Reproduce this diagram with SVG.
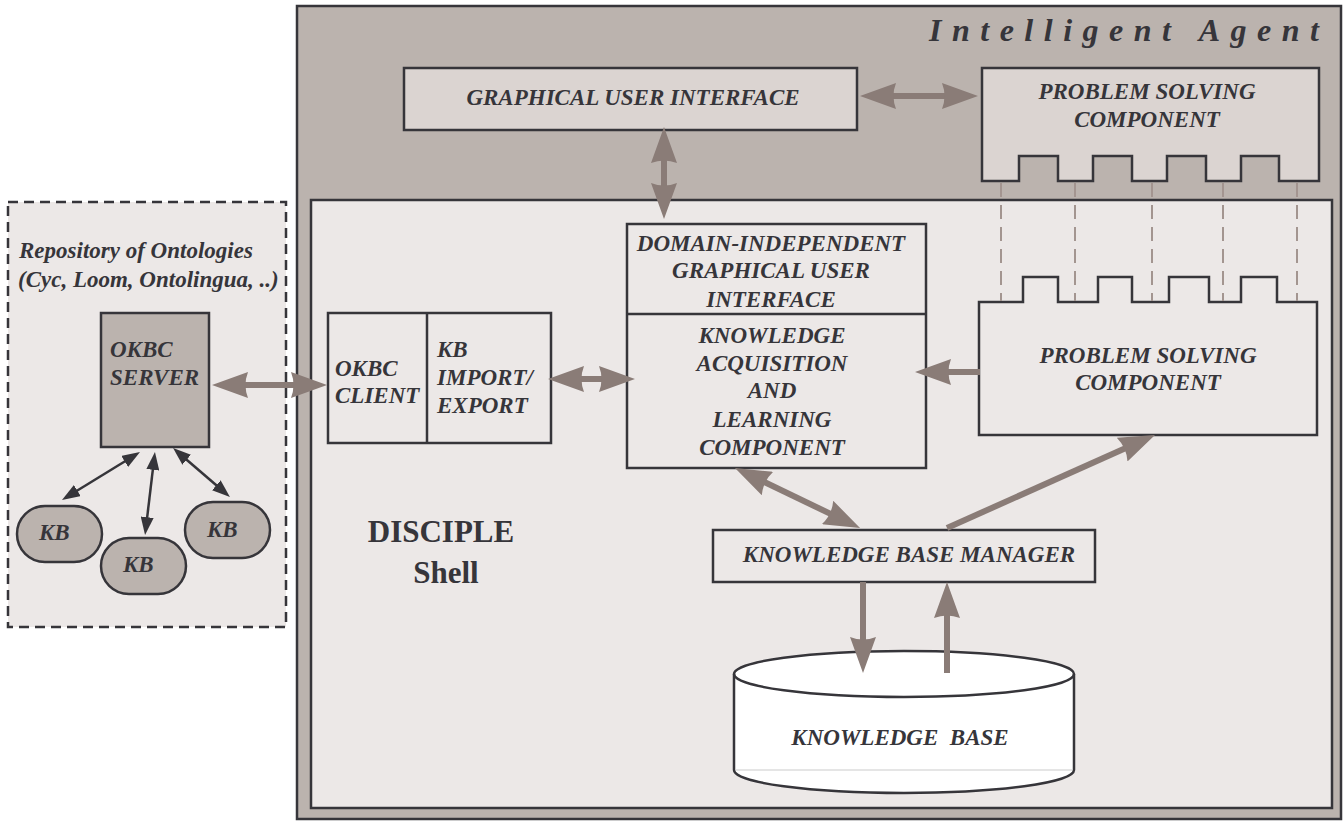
<svg xmlns="http://www.w3.org/2000/svg" width="1344" height="822" viewBox="0 0 1344 822">
<style>
.t{font-family:"Liberation Serif","Times New Roman",serif;font-weight:bold;font-style:italic;font-size:23px;fill:#36353a}
.c{text-anchor:middle}
.box{stroke:#36353a;stroke-width:2.5}
.lt{fill:#ece8e7}
.md{fill:#dbd4d1}
.dk{fill:#bbb3ae}
.big{stroke:#8a7c77;stroke-width:6;fill:none}
.sm{stroke:#36353a;stroke-width:2.5;fill:none}
.dash{stroke:#a39590;stroke-width:2;stroke-dasharray:14 8;fill:none}
</style>
<defs>
<marker id="ah" markerUnits="userSpaceOnUse" viewBox="0 0 36 26" markerWidth="36" markerHeight="26" refX="20" refY="13" orient="auto-start-reverse"><path d="M0,0 L36,13 L0,26 Q5,13 0,0 Z" fill="#8a7c77"/></marker>
<marker id="sh" markerUnits="userSpaceOnUse" viewBox="0 0 18 13" markerWidth="18" markerHeight="13" refX="10" refY="6.5" orient="auto-start-reverse"><path d="M0,0 L18,6.5 L0,13 Z" fill="#36353a"/></marker>
</defs>
<rect width="1344" height="822" fill="#ffffff"/>

<g id="intelligent-agent">
<rect x="297" y="6" width="1044" height="813" class="box dk"/>
<text x="929" y="41" class="t" style="font-size:32px;letter-spacing:10.5px">Intelligent Agent</text>
</g>

<g id="disciple-shell">
<rect x="311" y="200" width="1021" height="608" class="box lt"/>
<text x="441" y="542" style="font-family:'Liberation Serif','Times New Roman',serif;font-weight:bold;font-size:31px;fill:#36353a;text-anchor:middle">DISCIPLE</text>
<text x="446" y="583" style="font-family:'Liberation Serif','Times New Roman',serif;font-weight:bold;font-size:31px;fill:#36353a;text-anchor:middle">Shell</text>
</g>

<g id="repository">
<rect x="8" y="202" width="278" height="425" class="lt" stroke="#36353a" stroke-width="2.5" stroke-dasharray="10 6"/>
<text x="19" y="258" class="t">Repository of Ontologies</text>
<text x="18" y="287" class="t">(Cyc, Loom, Ontolingua, ..)</text>
</g>

<g id="okbc-server">
<rect x="101" y="313" width="108" height="134" class="box dk"/>
<text x="110" y="357" class="t">OKBC</text>
<text x="110" y="385" class="t">SERVER</text>
</g>

<g id="kb1">
<rect x="17" y="506" width="85" height="56" rx="28" ry="28" class="box dk"/>
<text x="39" y="540" class="t">KB</text>
</g>
<g id="kb2">
<rect x="101" y="538" width="85" height="56" rx="28" ry="28" class="box dk"/>
<text x="123" y="572" class="t">KB</text>
</g>
<g id="kb3">
<rect x="185" y="502" width="85" height="56" rx="28" ry="28" class="box dk"/>
<text x="207" y="537" class="t">KB</text>
</g>

<g id="gui">
<rect x="404" y="68" width="453" height="62" class="box md"/>
<text x="633" y="105" class="t c">GRAPHICAL USER INTERFACE</text>
</g>

<g id="psc-top">
<path d="M982,68 H1319 V181 H1279 V156 H1241 V181 H1206 V156 H1167 V181 H1132 V156 H1093 V181 H1058 V156 H1019 V181 H982 Z" class="box md"/>
<text x="1147" y="99" class="t c">PROBLEM SOLVING</text>
<text x="1147" y="127" class="t c">COMPONENT</text>
</g>

<g id="okbc-client">
<rect x="328" y="313" width="223" height="130" class="box lt"/>
<line x1="427" y1="312" x2="427" y2="443" stroke="#36353a" stroke-width="2.5"/>
<text x="335" y="376" class="t">OKBC</text>
<text x="335" y="403" class="t">CLIENT</text>
<text x="437" y="357" class="t">KB</text>
<text x="437" y="385" class="t">IMPORT/</text>
<text x="437" y="413" class="t">EXPORT</text>
</g>

<g id="kal">
<rect x="627" y="224" width="299" height="244" class="box lt"/>
<line x1="626" y1="314" x2="926" y2="314" stroke="#36353a" stroke-width="2.5"/>
<text x="771" y="251" class="t c">DOMAIN-INDEPENDENT</text>
<text x="771" y="278" class="t c">GRAPHICAL USER</text>
<text x="771" y="307" class="t c">INTERFACE</text>
<text x="772" y="343" class="t c">KNOWLEDGE</text>
<text x="772" y="371" class="t c">ACQUISITION</text>
<text x="772" y="398" class="t c">AND</text>
<text x="772" y="427" class="t c">LEARNING</text>
<text x="772" y="455" class="t c">COMPONENT</text>
</g>

<g id="psc-lower">
<path d="M979,302 H1023 V277 H1058 V302 H1098 V277 H1132 V302 H1169 V277 H1209 V302 H1241 V277 H1277 V302 H1317 V435 H979 Z" class="box lt"/>
<text x="1148" y="363" class="t c">PROBLEM SOLVING</text>
<text x="1148" y="390" class="t c">COMPONENT</text>
</g>

<g id="kbm">
<rect x="713" y="530" width="382" height="52" class="box lt"/>
<text x="909" y="562" class="t c">KNOWLEDGE BASE MANAGER</text>
</g>

<g id="knowledge-base">
<path d="M734,674 A170,23 0 0,1 1074,674 V770 A170,23 0 0,1 734,770 Z" fill="#ffffff" class="box"/>
<path d="M734,674 A170,23 0 0,0 1074,674" fill="none" class="box"/>
<line x1="736" y1="770" x2="1072" y2="770" stroke="#dddddd" stroke-width="1.5"/>
<text x="900" y="745" class="t c" xml:space="preserve">KNOWLEDGE  BASE</text>
</g>

<g id="connectors">
<line x1="1001" y1="183" x2="1001" y2="301" class="dash"/>
<line x1="1075" y1="183" x2="1075" y2="301" class="dash"/>
<line x1="1152" y1="183" x2="1152" y2="301" class="dash"/>
<line x1="1223" y1="183" x2="1223" y2="301" class="dash"/>
<line x1="1297" y1="183" x2="1297" y2="301" class="dash"/>

<line x1="876" y1="96" x2="962" y2="96" class="big" marker-start="url(#ah)" marker-end="url(#ah)"/>
<line x1="664" y1="143" x2="664" y2="203" class="big" marker-start="url(#ah)" marker-end="url(#ah)"/>
<line x1="228" y1="385" x2="311" y2="385" class="big" marker-start="url(#ah)" marker-end="url(#ah)"/>
<line x1="564" y1="379" x2="619" y2="379" class="big" marker-start="url(#ah)" marker-end="url(#ah)"/>
<line x1="980" y1="372" x2="931" y2="372" class="big" marker-end="url(#ah)"/>
<line x1="749.4" y1="474.9" x2="845.6" y2="521.1" class="big" marker-start="url(#ah)" marker-end="url(#ah)"/>
<line x1="947" y1="528" x2="1140.4" y2="441.5" class="big" marker-end="url(#ah)"/>
<line x1="863" y1="582" x2="863" y2="657" class="big" marker-end="url(#ah)"/>
<line x1="947" y1="673" x2="947" y2="598" class="big" marker-end="url(#ah)"/>

<line x1="133.2" y1="456.2" x2="68.8" y2="495.8" class="sm" marker-start="url(#sh)" marker-end="url(#sh)"/>
<line x1="154" y1="459.9" x2="146" y2="527.1" class="sm" marker-start="url(#sh)" marker-end="url(#sh)"/>
<line x1="179.1" y1="453.2" x2="223.9" y2="491.8" class="sm" marker-start="url(#sh)" marker-end="url(#sh)"/>
</g>
</svg>
